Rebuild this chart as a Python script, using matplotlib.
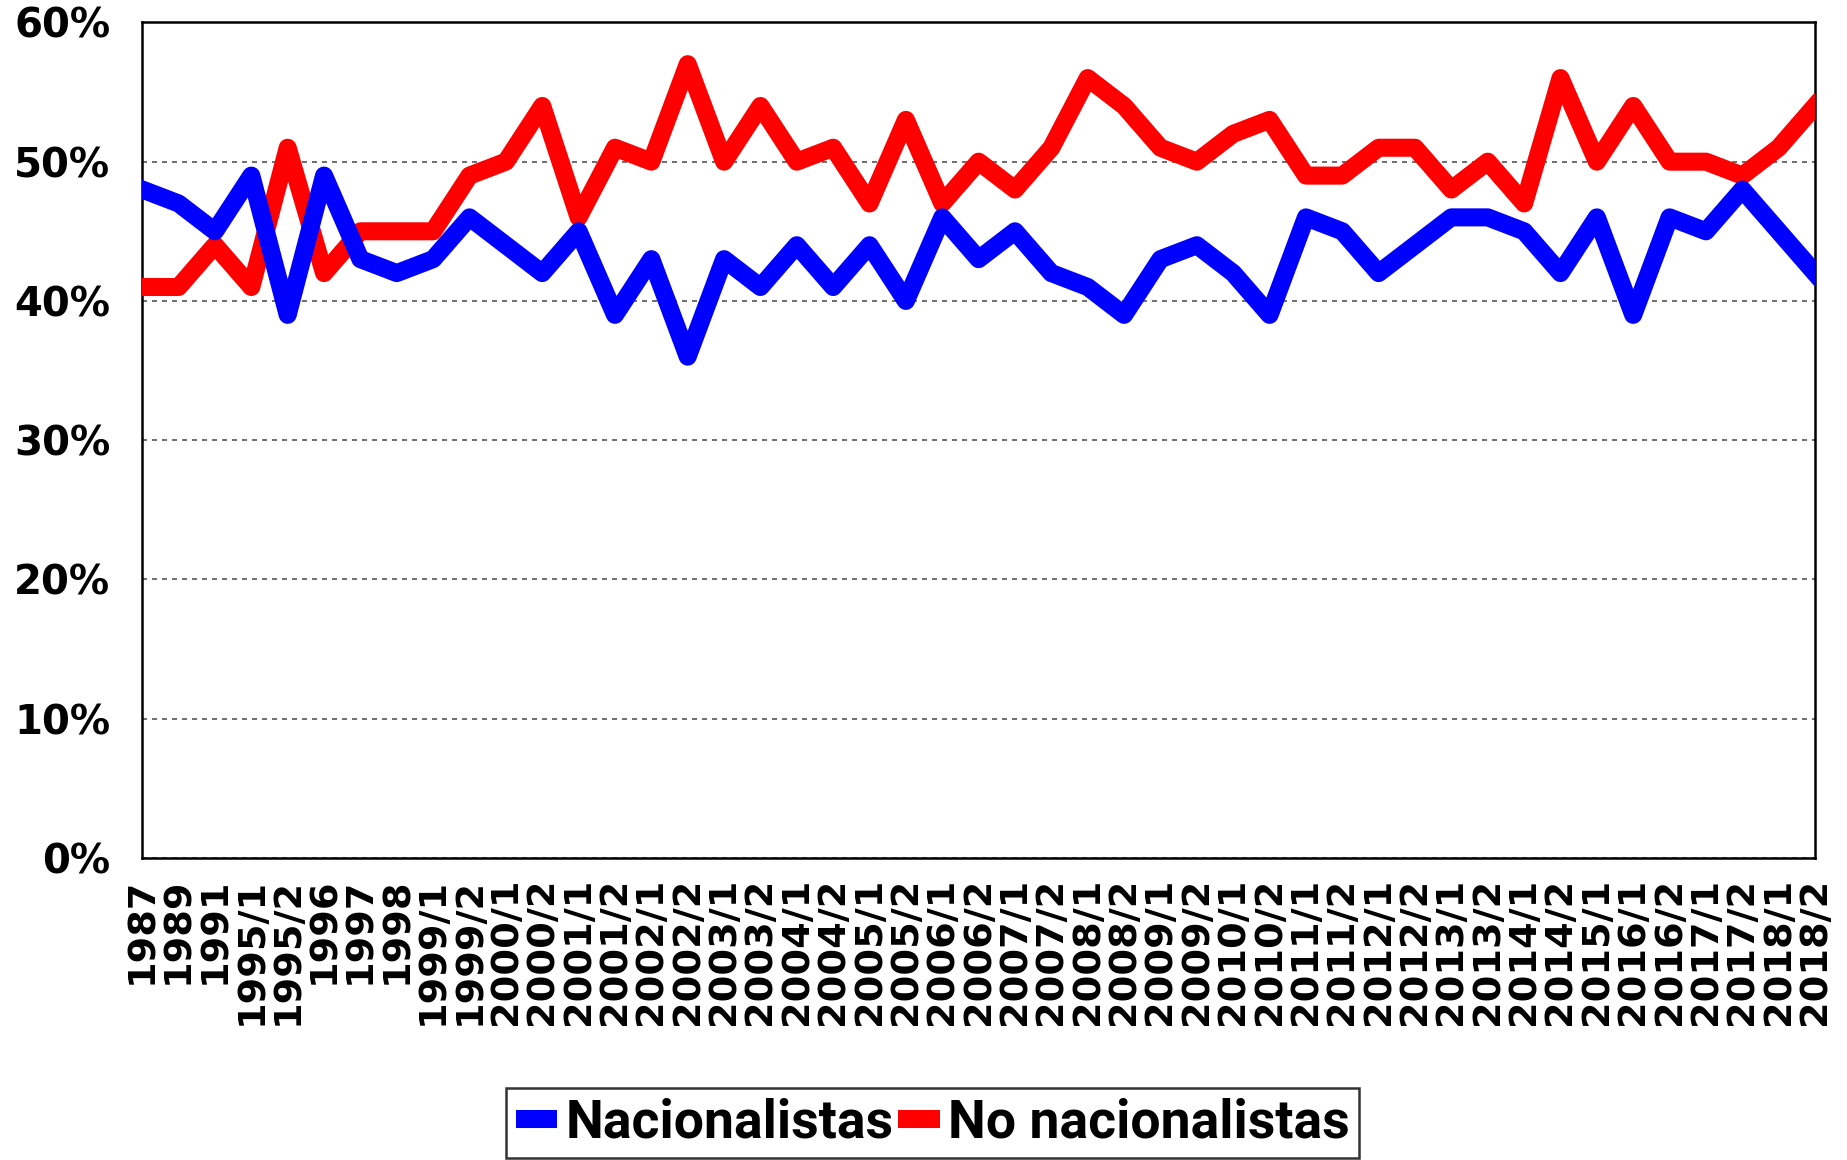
import matplotlib
matplotlib.use("Agg")
import matplotlib.pyplot as plt
from matplotlib.ticker import PercentFormatter

# ── data ──────────────────────────────────────────────────────────────────
periods = [
    "1987", "1989", "1991", "1995/1", "1995/2", "1996", "1997", "1998",
    "1999/1", "1999/2", "2000/1", "2000/2", "2001/1", "2001/2",
    "2002/1", "2002/2", "2003/1", "2003/2", "2004/1", "2004/2",
    "2005/1", "2005/2", "2006/1", "2006/2", "2007/1", "2007/2",
    "2008/1", "2008/2", "2009/1", "2009/2", "2010/1", "2010/2",
    "2011/1", "2011/2", "2012/1", "2012/2", "2013/1", "2013/2",
    "2014/1", "2014/2", "2015/1", "2016/1", "2016/2", "2017/1",
    "2017/2", "2018/1", "2018/2",
]

nacionalistas = [
    48, 47, 45, 49, 39, 49, 43, 42, 43, 46, 44, 42, 45, 39, 43, 36,
    43, 41, 44, 41, 44, 40, 46, 43, 45, 42, 41, 39, 43, 44, 42, 39,
    46, 45, 42, 44, 46, 46, 45, 42, 46, 39, 46, 45, 48, 45, 42,
]

no_nacionalistas = [
    41, 41, 44, 41, 51, 42, 45, 45, 45, 49, 50, 54, 46, 51, 50, 57,
    50, 54, 50, 51, 47, 53, 47, 50, 48, 51, 56, 54, 51, 50, 52, 53,
    49, 49, 51, 51, 48, 50, 47, 56, 50, 54, 50, 50, 49, 51, 54,
]

# ── plot ──────────────────────────────────────────────────────────────────
fig = plt.figure(figsize=(18.47, 11.6), dpi=100)
ax = fig.add_axes([0.077, 0.2603, 0.9057, 0.7204])

x = range(len(periods))
# red first so the blue line sits on top where they cross
ax.plot(x, no_nacionalistas, color="#FF0000", linewidth=13,
        solid_joinstyle="round", label="No nacionalistas", zorder=3)
ax.plot(x, nacionalistas, color="#0000FF", linewidth=13,
        solid_joinstyle="round", label="Nacionalistas", zorder=4)

ax.set_xlim(0, len(periods) - 1)
ax.set_ylim(0, 60)
ax.set_yticks(range(0, 61, 10))
ax.yaxis.set_major_formatter(PercentFormatter(decimals=0))
ax.set_xticks(list(x))
ax.set_xticklabels(periods, rotation=90)

ax.grid(axis="y", color="#555555", linestyle=(0, (3, 3)), linewidth=1.2)
ax.set_axisbelow(True)
for s in ax.spines.values():
    s.set_linewidth(1.8)
    s.set_color("black")

ax.tick_params(axis="y", length=0, pad=23, labelsize=29)
ax.tick_params(axis="x", length=0, pad=14, labelsize=27.5)
for lbl in ax.get_xticklabels() + ax.get_yticklabels():
    lbl.set_fontweight("bold")
    lbl.set_family("DejaVu Sans")

handles, labels = ax.get_legend_handles_labels()
leg = fig.legend(handles[::-1], labels[::-1], loc="lower center",
                 bbox_to_anchor=(0.505, 0.0017), ncol=2, frameon=True,
                 fancybox=False, edgecolor="black", handlelength=0.78,
                 handletextpad=0.15, columnspacing=0.09, borderpad=0.18,
                 borderaxespad=0,
                 prop={"family": ["Roboto", "DejaVu Sans"],
                       "weight": "bold", "size": 38.5})
leg.get_frame().set_linewidth(1.8)
for line in leg.get_lines():
    line.set_linewidth(13)
    line.set_solid_capstyle("butt")

fig.savefig("out.png", dpi=100)
